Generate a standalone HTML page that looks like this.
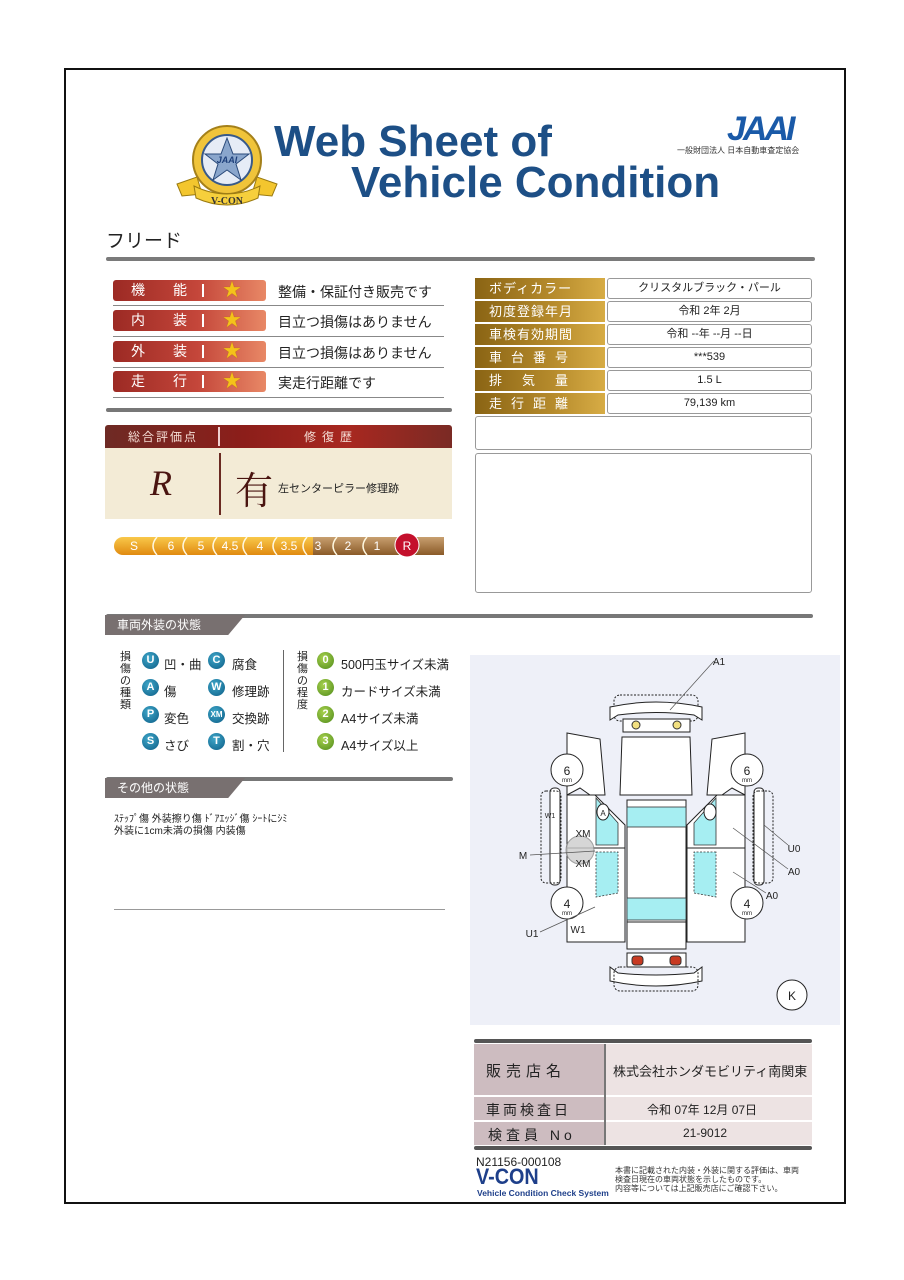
<!DOCTYPE html>
<html><head><meta charset="utf-8">
<style>
*{margin:0;padding:0;box-sizing:border-box}
body{width:904px;height:1280px;background:#fff;position:relative;font-family:"Liberation Sans","Noto Sans CJK JP",sans-serif;color:#222;overflow:hidden}
.a{position:absolute}
.frame{left:64px;top:68px;width:782px;height:1136px;border:2px solid #111}
.lbl{left:113px;width:153px;height:21px;border-radius:3px;background:linear-gradient(90deg,#9c2a24,#c4463a 55%,#e88866);color:#fff;font-size:14px;line-height:21px}
.lbl .t1{position:absolute;left:18px}.lbl .t2{position:absolute;left:60px}.lbl .bar{position:absolute;left:89px;top:4px;width:2px;height:13px;background:#fff}
.lbl .st{position:absolute;left:110px;top:0;color:#f4c21a;font-size:18px;text-shadow:0 0 1px #a60}
.desc{left:278px;font-size:14px;color:#222}
.ul{left:113px;width:331px;height:1px;background:#888}
.rl{left:475px;width:130px;height:21px;background:linear-gradient(90deg,#8a6414,#b68b2c 60%,#d7ac45);color:#fff;font-size:13px;line-height:21px;padding-left:14px;letter-spacing:1px}
.rv{left:607px;width:205px;height:21px;border:1px solid #999;border-radius:3px;font-size:11px;line-height:19px;text-align:center;background:#fff}
.sec{height:20px;background:#787070;color:#fff;font-size:12px;line-height:20px;padding-left:12px;clip-path:polygon(0 0,100% 0,88% 100%,0 100%)}
.ic{width:17px;height:17px;border-radius:50%;color:#fff;font-size:11px;font-weight:bold;text-align:center;line-height:17px}
.b{background:radial-gradient(circle at 40% 35%,#3fa7c9,#0c5d86)}
.g{background:radial-gradient(circle at 40% 35%,#a8d24e,#4f8a1a)}
.lt{font-size:12.5px}
</style></head><body>
<div class="a frame"></div>

<svg class="a" style="left:172px;top:122px" width="110" height="90" viewBox="0 0 110 90">
<path d="M5 62 L25 55 L30 72 L10 74 Z" fill="#f3c62e" stroke="#9a7a10"/>
<path d="M105 62 L85 55 L80 72 L100 74 Z" fill="#f3c62e" stroke="#9a7a10"/>
<circle cx="55" cy="38" r="34" fill="#f0c43a" stroke="#a4801a" stroke-width="2"/>
<circle cx="55" cy="38" r="25" fill="#e6ecf6" stroke="#385a8a" stroke-width="2"/>
<polygon points="55,16 61,32 77,32 64,42 69,58 55,48 41,58 46,42 33,32 49,32" fill="#8aa6cc" stroke="#2a4a7a"/>
<text x="55" y="41" font-size="9" font-weight="bold" fill="#1d3f7a" text-anchor="middle" font-style="italic">JAAI</text>
<path d="M22 64 Q55 80 88 64 L86 76 Q55 90 24 76 Z" fill="#f6cf3c" stroke="#9a7a10"/>
<text x="55" y="82" font-size="10" font-weight="bold" fill="#333" text-anchor="middle" font-family="Liberation Serif">V-CON</text>
</svg>
<div class="a" style="left:274px;top:117px;font-size:44px;font-weight:bold;color:#1d4f86">Web Sheet of</div>
<div class="a" style="left:351px;top:158px;font-size:44px;font-weight:bold;color:#1d4f86">Vehicle Condition</div>
<div class="a" style="left:727px;top:110px;font-size:34px;font-weight:bold;font-style:italic;color:#1a5aa8;letter-spacing:-3px">JAAI</div>
<div class="a" style="left:677px;top:145px;font-size:8px;color:#333">一般財団法人 日本自動車査定協会</div>

<div class="a" style="left:106px;top:226px;font-size:19px">フリード</div>
<div class="a" style="left:106px;top:257px;width:709px;height:4px;background:#7a7a7a;border-radius:2px"></div>

<div class="a lbl" style="top:280px"><span class="t1">機</span><span class="t2">能</span><span class="bar"></span><span class="st">★</span></div>
<div class="a desc" style="top:282px">整備・保証付き販売です</div><div class="a ul" style="top:305px"></div>
<div class="a lbl" style="top:310px"><span class="t1">内</span><span class="t2">装</span><span class="bar"></span><span class="st">★</span></div>
<div class="a desc" style="top:312px">目立つ損傷はありません</div><div class="a ul" style="top:336px"></div>
<div class="a lbl" style="top:341px"><span class="t1">外</span><span class="t2">装</span><span class="bar"></span><span class="st">★</span></div>
<div class="a desc" style="top:343px">目立つ損傷はありません</div><div class="a ul" style="top:367px"></div>
<div class="a lbl" style="top:371px"><span class="t1">走</span><span class="t2">行</span><span class="bar"></span><span class="st">★</span></div>
<div class="a desc" style="top:373px">実走行距離です</div><div class="a ul" style="top:397px"></div>
<div class="a" style="left:106px;top:408px;width:346px;height:4px;background:#777;border-radius:2px"></div>

<div class="a" style="left:105px;top:425px;width:347px;height:23px;background:linear-gradient(90deg,#6e2a24,#8c1e1a 40%,#a82820 70%,#7a2a24);border-radius:3px 3px 0 0"></div>
<div class="a" style="left:128px;top:428px;color:#f4dcd4;font-size:12px;letter-spacing:2px">総合評価点</div>
<div class="a" style="left:218px;top:427px;width:2px;height:19px;background:#f0d0d0"></div>
<div class="a" style="left:304px;top:428px;color:#f4dcd4;font-size:12px;letter-spacing:6px">修復歴</div>
<div class="a" style="left:105px;top:448px;width:347px;height:71px;background:#f3ebd6"></div>
<div class="a" style="left:219px;top:453px;width:2px;height:62px;background:#6a2a22"></div>
<div class="a" style="left:150px;top:462px;font-size:36px;font-style:italic;font-family:'Liberation Serif',serif;color:#4a1410">R</div>
<div class="a" style="left:235px;top:460px;font-size:38px;font-family:'Noto Serif CJK SC',serif;color:#4a1410">有</div>
<div class="a" style="left:278px;top:480px;font-size:11px;color:#222">左センターピラー修理跡</div>

<svg class="a" style="left:113px;top:533px" width="333" height="26" viewBox="0 0 333 26">
<defs><linearGradient id="o" x1="0" y1="0" x2="0" y2="1"><stop offset="0" stop-color="#f9c84a"/><stop offset="1" stop-color="#e08a10"/></linearGradient>
<linearGradient id="br" x1="0" y1="0" x2="0" y2="1"><stop offset="0" stop-color="#c8a070"/><stop offset="1" stop-color="#8a5a28"/></linearGradient></defs>
<rect x="1" y="4" width="215" height="18" rx="9" fill="url(#o)"/>
<rect x="200" y="4" width="131" height="18" fill="url(#br)"/>
<g fill="none" stroke="#fff8e0" stroke-width="1.5">
<path d="M44 4 Q36 13 44 22"/><path d="M74 4 Q66 13 74 22"/><path d="M104 4 Q96 13 104 22"/><path d="M134 4 Q126 13 134 22"/><path d="M164 4 Q156 13 164 22"/><path d="M194 4 Q186 13 194 22"/><path d="M224 4 Q216 13 224 22"/><path d="M254 4 Q246 13 254 22"/></g>
<circle cx="294" cy="12" r="12" fill="#c4102c" stroke="#fff" stroke-width="1"/>
<g fill="#fff" font-size="12" text-anchor="middle" font-family="Liberation Sans">
<text x="21" y="17">S</text><text x="58" y="17">6</text><text x="88" y="17">5</text><text x="117" y="17">4.5</text><text x="147" y="17">4</text><text x="176" y="17">3.5</text><text x="205" y="17">3</text><text x="235" y="17">2</text><text x="264" y="17">1</text><text x="294" y="17">R</text></g>
</svg>

<div class="a rl" style="top:278px">ボディカラー</div><div class="a rv" style="top:278px">クリスタルブラック・パール</div>
<div class="a rl" style="top:301px">初度登録年月</div><div class="a rv" style="top:301px">令和 2年 2月</div>
<div class="a rl" style="top:324px">車検有効期間</div><div class="a rv" style="top:324px">令和 --年 --月 --日</div>
<div class="a rl" style="top:347px;letter-spacing:9px">車台番号</div><div class="a rv" style="top:347px">***539</div>
<div class="a rl" style="top:370px;letter-spacing:20px">排気量</div><div class="a rv" style="top:370px">1.5 L</div>
<div class="a rl" style="top:393px;letter-spacing:9px">走行距離</div><div class="a rv" style="top:393px">79,139 km</div>
<div class="a" style="left:475px;top:416px;width:337px;height:34px;border:1px solid #999;border-radius:3px"></div>
<div class="a" style="left:475px;top:453px;width:337px;height:140px;border:1px solid #999;border-radius:3px"></div>

<div class="a" style="left:106px;top:614px;width:707px;height:4px;background:#777;border-radius:2px"></div>
<div class="a sec" style="left:105px;top:615px;width:140px">車両外装の状態</div>
<div class="a" style="left:120px;top:651px;font-size:11px;line-height:12px;width:12px">損傷の種類</div>
<div class="a ic b" style="left:142px;top:652px">U</div><div class="a lt" style="left:164px;top:654px">凹・曲</div>
<div class="a ic b" style="left:208px;top:652px">C</div><div class="a lt" style="left:232px;top:654px">腐食</div>
<div class="a ic b" style="left:142px;top:679px">A</div><div class="a lt" style="left:164px;top:681px">傷</div>
<div class="a ic b" style="left:208px;top:679px">W</div><div class="a lt" style="left:232px;top:681px">修理跡</div>
<div class="a ic b" style="left:142px;top:706px">P</div><div class="a lt" style="left:164px;top:708px">変色</div>
<div class="a ic b" style="left:208px;top:706px;font-size:8px">XM</div><div class="a lt" style="left:232px;top:708px">交換跡</div>
<div class="a ic b" style="left:142px;top:733px">S</div><div class="a lt" style="left:164px;top:735px">さび</div>
<div class="a ic b" style="left:208px;top:733px">T</div><div class="a lt" style="left:232px;top:735px">割・穴</div>
<div class="a" style="left:283px;top:650px;width:1px;height:102px;background:#666"></div>
<div class="a" style="left:297px;top:651px;font-size:11px;line-height:12px;width:12px">損傷の程度</div>
<div class="a ic g" style="left:317px;top:652px">0</div><div class="a lt" style="left:341px;top:654px">500円玉サイズ未満</div>
<div class="a ic g" style="left:317px;top:679px">1</div><div class="a lt" style="left:341px;top:681px">カードサイズ未満</div>
<div class="a ic g" style="left:317px;top:706px">2</div><div class="a lt" style="left:341px;top:708px">A4サイズ未満</div>
<div class="a ic g" style="left:317px;top:733px">3</div><div class="a lt" style="left:341px;top:735px">A4サイズ以上</div>

<div class="a" style="left:106px;top:777px;width:347px;height:4px;background:#777;border-radius:2px"></div>
<div class="a sec" style="left:105px;top:778px;width:140px">その他の状態</div>
<div class="a" style="left:114px;top:814px;font-size:10px;line-height:12px">ｽﾃｯﾌﾟ傷 外装擦り傷 ﾄﾞｱｴｯｼﾞ傷 ｼｰﾄにｼﾐ<br>外装に1cm未満の損傷 内装傷</div>
<div class="a" style="left:114px;top:909px;width:331px;height:1px;background:#999"></div>

<svg class="a" style="left:470px;top:655px" width="370" height="370" viewBox="0 0 370 370" font-family="Liberation Sans">
<rect width="370" height="370" fill="#eef0f8"/>
<g stroke="#222" stroke-width="1" fill="#fff">
<rect x="144" y="40" width="84" height="26" rx="6" fill="none" stroke-dasharray="2,1.5"/>
<path d="M140 65 L140 52 Q186 42 232 52 L232 65 L224 60 Q186 55 148 60 Z"/>
<rect x="153" y="64" width="67" height="13"/>
<path d="M152 82 L220 82 L222 140 L150 140 Z"/>
<path d="M97 78 L130 84 L135 140 L120 140 L110 133 L97 140 Z"/>
<path d="M275 78 L242 84 L237 140 L252 140 L262 133 L275 140 Z"/>
<path d="M97 140 L125 140 L155 170 L155 287 L97 287 Z"/>
<path d="M275 140 L247 140 L217 170 L217 287 L275 287 Z"/>
<rect x="157" y="145" width="59" height="122"/>
<rect x="157" y="267" width="59" height="27"/>
<rect x="157" y="298" width="59" height="14"/>
<path d="M140 312 L140 326 Q186 336 232 326 L232 312 L224 318 Q186 322 148 318 Z"/>
<rect x="144" y="312" width="84" height="24" rx="6" fill="none" stroke-dasharray="2,1.5"/>
<rect x="80" y="133" width="10" height="97" rx="4"/>
<rect x="284" y="133" width="10" height="97" rx="4"/>
<rect x="71" y="136" width="20" height="92" rx="5" fill="none" stroke-dasharray="2,1.5"/>
<rect x="283" y="136" width="20" height="92" rx="5" fill="none" stroke-dasharray="2,1.5"/>
<line x1="97" y1="193" x2="155" y2="193"/><line x1="217" y1="193" x2="275" y2="193"/>
</g>
<g fill="#a6eef2" stroke="#333" stroke-width="0.8">
<rect x="157" y="152" width="59" height="20"/>
<rect x="157" y="243" width="59" height="22"/>
<path d="M126 143 L148 168 L148 190 L126 190 Z"/>
<path d="M246 143 L224 168 L224 190 L246 190 Z"/>
<path d="M126 197 L148 197 L148 238 L126 242 Z" stroke-dasharray="2,1.5"/>
<path d="M246 197 L224 197 L224 238 L246 242 Z" stroke-dasharray="2,1.5"/>
</g>
<g fill="#fff" stroke="#222"><circle cx="97" cy="115" r="16"/><circle cx="277" cy="115" r="16"/><circle cx="97" cy="248" r="16"/><circle cx="277" cy="248" r="16"/><circle cx="322" cy="340" r="15"/>
<ellipse cx="133" cy="157" rx="6" ry="8"/><ellipse cx="240" cy="157" rx="6" ry="8"/></g>
<circle cx="166" cy="70" r="4" fill="#f2e080" stroke="#333"/><circle cx="207" cy="70" r="4" fill="#f2e080" stroke="#333"/>
<rect x="162" y="301" width="11" height="9" rx="3" fill="#c83a22" stroke="#333"/><rect x="200" y="301" width="11" height="9" rx="3" fill="#c83a22" stroke="#333"/>
<circle cx="110" cy="195" r="14" fill="#ccc" stroke="#888" opacity="0.8"/>
<g stroke="#555" stroke-width="0.7"><line x1="244" y1="6" x2="200" y2="55"/><line x1="318" y1="190" x2="294" y2="170"/><line x1="318" y1="214" x2="263" y2="173"/><line x1="296" y1="238" x2="263" y2="217"/><line x1="60" y1="200" x2="125" y2="196"/><line x1="70" y1="277" x2="125" y2="252"/></g>
<g font-size="12" fill="#222" text-anchor="middle">
<text x="97" y="120">6</text><text x="277" y="120">6</text><text x="97" y="253">4</text><text x="277" y="253">4</text>
<text x="322" y="345">K</text><text x="249" y="10" font-size="10">A1</text>
<text x="324" y="197" font-size="10">U0</text><text x="324" y="220" font-size="10">A0</text><text x="302" y="244" font-size="10">A0</text>
<text x="53" y="204" font-size="10">M</text><text x="62" y="282" font-size="10">U1</text><text x="108" y="278" font-size="10">W1</text>
<text x="113" y="182" font-size="10">XM</text><text x="113" y="212" font-size="10">XM</text>
<text x="80" y="163" font-size="7">W1</text><text x="133" y="161" font-size="8">A</text>
<text x="97" y="127" font-size="6">mm</text><text x="277" y="127" font-size="6">mm</text><text x="97" y="260" font-size="6">mm</text><text x="277" y="260" font-size="6">mm</text>
</g>
</svg>

<div class="a" style="left:474px;top:1039px;width:338px;height:4px;background:#555;border-radius:2px"></div>
<div class="a" style="left:474px;top:1044px;width:130px;height:51px;background:#cdbcc0"></div>
<div class="a" style="left:606px;top:1044px;width:206px;height:51px;background:#ede3e3"></div>
<div class="a" style="left:474px;top:1097px;width:130px;height:23px;background:#cdbcc0"></div>
<div class="a" style="left:606px;top:1097px;width:206px;height:23px;background:#ede3e3"></div>
<div class="a" style="left:474px;top:1122px;width:130px;height:23px;background:#cdbcc0"></div>
<div class="a" style="left:606px;top:1122px;width:206px;height:23px;background:#ede3e3"></div>
<div class="a" style="left:604px;top:1044px;width:2px;height:101px;background:#777"></div>
<div class="a" style="left:474px;top:1146px;width:338px;height:4px;background:#555;border-radius:2px"></div>
<div class="a" style="left:486px;top:1060px;font-size:15px;letter-spacing:5px">販売店名</div>
<div class="a" style="left:613px;top:1061px;font-size:13px">株式会社ホンダモビリティ南関東</div>
<div class="a" style="left:486px;top:1100px;font-size:14px;letter-spacing:3px">車両検査日</div>
<div class="a" style="left:647px;top:1101px;font-size:12px">令和 07年 12月 07日</div>
<div class="a" style="left:488px;top:1125px;font-size:14px;letter-spacing:4px">検査員 No</div>
<div class="a" style="left:683px;top:1126px;font-size:12px">21-9012</div>

<div class="a" style="left:476px;top:1155px;font-size:12px">N21156-000108</div>
<div class="a" style="left:476px;top:1164px;font-size:22px;font-weight:bold;color:#1e3f8a;transform:scaleX(0.9);transform-origin:0 0">V-CON</div>
<div class="a" style="left:477px;top:1188px;font-size:8.5px;font-weight:bold;color:#1e3f8a">Vehicle Condition Check System</div>
<div class="a" style="left:615px;top:1166px;font-size:8px;line-height:9px;color:#333">本書に記載された内装・外装に関する評価は、車両<br>検査日現在の車両状態を示したものです。<br>内容等については上記販売店にご確認下さい。</div>
</body></html>
